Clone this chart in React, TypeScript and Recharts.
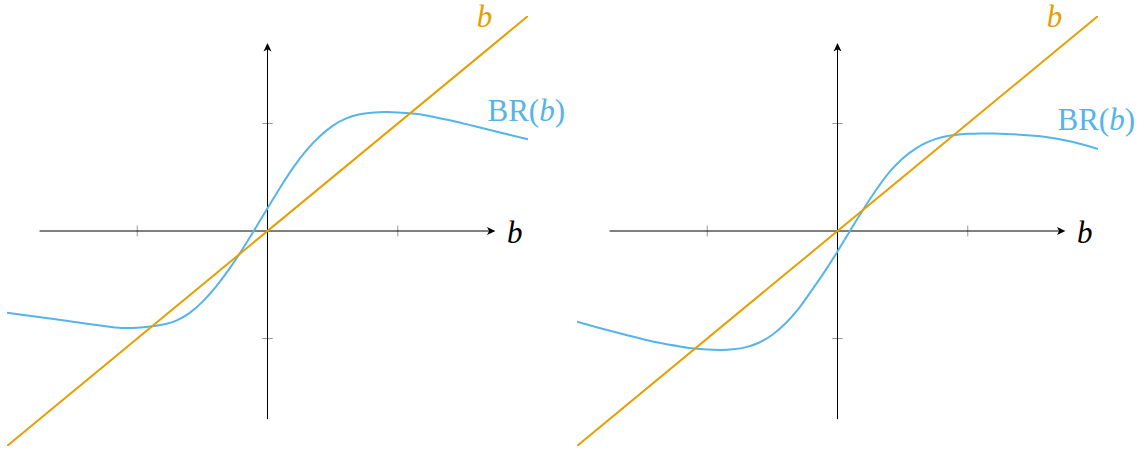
import React from 'react';
import { LineChart, Line, XAxis, YAxis, ReferenceLine, ReferenceDot } from 'recharts';

const bGrid = [-2, -1.8, -1.6, -1.4, -1.2, -1.1, -1.0, -0.9, -0.8, -0.7, -0.6, -0.5, -0.4, -0.3, -0.2, -0.1, 0, 0.1, 0.2, 0.3, 0.4, 0.5, 0.6, 0.7, 0.8, 0.9, 1.0, 1.1, 1.2, 1.4, 1.6, 1.8, 2.0];

// Left panel best response
const brLeft = [-0.76, -0.792, -0.826, -0.861, -0.892, -0.902, -0.899, -0.888, -0.87, -0.833, -0.764, -0.659, -0.524, -0.364, -0.184, 0.011, 0.211, 0.409, 0.594, 0.752, 0.879, 0.978, 1.045, 1.083, 1.1, 1.106, 1.103, 1.094, 1.08, 1.03, 0.972, 0.912, 0.854];

// Right panel best response
const brRight = [-0.844, -0.911, -0.974, -1.033, -1.076, -1.093, -1.103, -1.107, -1.1, -1.08, -1.037, -0.965, -0.86, -0.724, -0.556, -0.38, -0.19, 0.01, 0.205, 0.388, 0.55, 0.675, 0.767, 0.831, 0.872, 0.893, 0.904, 0.908, 0.906, 0.896, 0.875, 0.83, 0.763];

// 45-degree line b
const diagB = [-2, 2];
const tickValues = [-1, 1];
const axisExtent = 1.75;
const domain: [number, number] = [-2, 2];

const ORANGE = '#E69F00';
const BLUE = '#56B4E9';
const FONT = 'Liberation Serif';
const FS = 31;

function ArrowLine(props: any) {
  const { x1, y1, x2, y2 } = props;
  const dx = x2 - x1;
  const dy = y2 - y1;
  const len = Math.hypot(dx, dy) || 1;
  const ux = dx / len;
  const uy = dy / len;
  const px = -uy;
  const py = ux;
  const L = 8.5;
  const W = 4;
  const inset = 2.2;
  const bx = x2 - ux * L;
  const by = y2 - uy * L;
  const nx = x2 - ux * (L - inset);
  const ny = y2 - uy * (L - inset);
  const d = `M${x2},${y2} L${bx + px * W},${by + py * W} L${nx},${ny} L${bx - px * W},${by - py * W} Z`;
  return (
    <g>
      <line x1={x1} y1={y1} x2={x2 - ux * 4} y2={y2 - uy * 4} stroke="#000" strokeWidth={1} />
      <path d={d} fill="#000" stroke="none" />
    </g>
  );
}

function TickLine(props: any) {
  const { x1, y1, x2, y2 } = props;
  return <line x1={x1} y1={y1} x2={x2} y2={y2} stroke="#999" strokeWidth={1} />;
}

function makeTextShape(dx: number, dy: number, color: string, withBR: boolean, anchor: string) {
  return (props: any) => {
    const { cx, cy } = props;
    return (
      <text
        x={cx + dx}
        y={cy + dy}
        fill={color}
        textAnchor={anchor}
        style={{ fontFamily: FONT, fontSize: FS }}
      >
        {withBR ? (
          <>
            <tspan>BR(</tspan>
            <tspan style={{ fontStyle: 'italic' }}>b</tspan>
            <tspan>)</tspan>
          </>
        ) : (
          <tspan style={{ fontStyle: 'italic' }}>b</tspan>
        )}
      </text>
    );
  };
}

function Panel({ br, left }: { br: number[]; left: number }) {
  const brData = bGrid.map((b, i) => ({ b, v: br[i] }));
  const diagData = diagB.map((b) => ({ b, v: b }));
  const lastB = bGrid[bGrid.length - 1];
  const lastBR = br[br.length - 1];
  return (
    <div style={{ position: 'absolute', left, top: 0 }}>
      <LineChart width={572} height={450} margin={{ top: 16, right: 44, bottom: 4, left: 7 }}>
        <XAxis type="number" dataKey="b" domain={domain} hide allowDataOverflow />
        <YAxis type="number" domain={domain} hide allowDataOverflow />
        {tickValues.map((t) => (
          <ReferenceLine
            key={'xt' + t}
            segment={[{ x: t, y: -0.05 }, { x: t, y: 0.05 }]}
            shape={TickLine}
          />
        ))}
        {tickValues.map((t) => (
          <ReferenceLine
            key={'yt' + t}
            segment={[{ x: -0.04, y: t }, { x: 0.04, y: t }]}
            shape={TickLine}
          />
        ))}
        <ReferenceLine segment={[{ x: -axisExtent, y: 0 }, { x: axisExtent, y: 0 }]} shape={ArrowLine} />
        <ReferenceLine segment={[{ x: 0, y: -axisExtent }, { x: 0, y: axisExtent }]} shape={ArrowLine} />
        <Line data={brData} dataKey="v" type="natural" stroke={BLUE} strokeWidth={2} dot={false} isAnimationActive={false} />
        <Line data={diagData} dataKey="v" type="linear" stroke={ORANGE} strokeWidth={2} dot={false} isAnimationActive={false} />
        <ReferenceDot x={diagB[1]} y={diagB[1]} r={0} shape={makeTextShape(-43.5, 10.5, ORANGE, false, 'middle')} />
        <ReferenceDot x={lastB} y={lastBR} r={0} shape={makeTextShape(-40.5, -18.5, BLUE, true, 'start')} />
        <ReferenceDot x={axisExtent} y={0} r={0} shape={makeTextShape(11.5, 11.5, '#000', false, 'start')} />
      </LineChart>
    </div>
  );
}

export default function App() {
  return (
    <div style={{ position: 'absolute', left: 0, top: 0, width: 1144, height: 450, background: '#fff' }}>
      <Panel br={brLeft} left={0} />
      <Panel br={brRight} left={570} />
    </div>
  );
}
